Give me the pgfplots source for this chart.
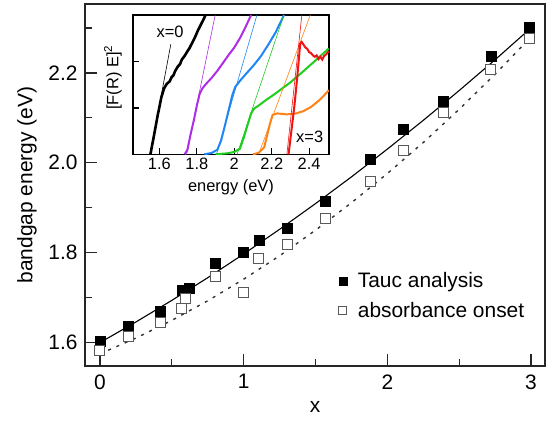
\documentclass[border=0pt]{standalone}
\usepackage{fontspec}
\setmainfont{Liberation Sans}
\usepackage{pgfplots}
\pgfplotsset{compat=1.18}
\definecolor{cpurple}{RGB}{175,45,230}
\definecolor{cblue}{RGB}{30,135,245}
\definecolor{cgreen}{RGB}{30,205,30}
\definecolor{corange}{RGB}{255,130,20}
\definecolor{cred}{RGB}{240,20,20}
\newcommand\mainfs{\fontsize{21}{25}\selectfont}
\newcommand\insfs{\fontsize{16.5}{19}\selectfont}
\begin{document}
\begin{tikzpicture}
\path[use as bounding box] (-85bp,-57bp) rectangle (465bp,366bp);
\begin{axis}[
  at={(0,0)}, anchor=south west,
  scale only axis, width=460bp, height=362bp,
  xmin=-0.104, xmax=3.097, ymin=1.548, ymax=2.353,
  xtick={0,1,2,3}, minor xtick={0.5,1.5,2.5},
  ytick={1.6,1.8,2.0,2.2}, minor ytick={1.7,1.9,2.1,2.3},
  /pgf/number format/assume math mode=true,
  yticklabel style={xshift=-4bp, /pgf/number format/fixed, /pgf/number format/fixed zerofill, /pgf/number format/precision=1},
  xticklabel style={yshift=-5bp},
  tick align=inside, xtick pos=left, ytick pos=left,
  major tick length=12bp, minor tick length=7bp,
  tick style={line width=1.4bp, black!85},
  axis line style={line width=1.4bp, black!85},
  tick label style={font=\mainfs},
  label style={font=\mainfs},
  xlabel={x}, ylabel={bandgap energy (eV)},
  xlabel style={at={(axis description cs:0.5,0)}, anchor=center, yshift=-41bp},
  ylabel style={at={(axis description cs:-0.126,0.5)}, anchor=center},
  legend style={draw=none, fill=none, font=\mainfs, at={(axis description cs:0.545,0.27)}, anchor=north west, row sep=9bp},
  legend cell align=left,
  legend image post style={mark size=4bp},
]
\addplot[black, line width=1.1bp, forget plot] coordinates {
(0,1.600) (0.25,1.6458) (0.5,1.6939) (0.75,1.7443) (1,1.797) (1.25,1.8519) (1.5,1.9091)
(1.75,1.9685) (2,2.0303) (2.25,2.0943) (2.5,2.1606) (2.75,2.2291) (3,2.300)};
\addplot[black!80, line width=1.4bp, dash pattern=on 3bp off 6bp, forget plot] coordinates {
(0,1.575) (0.25,1.610) (0.5,1.6495) (0.75,1.693) (1,1.741) (1.25,1.793) (1.5,1.850)
(1.75,1.911) (2,1.976) (2.25,2.045) (2.5,2.119) (2.75,2.197) (3,2.280)};
\addplot[only marks, mark=square*, mark size=5bp, black] coordinates {
(0,1.604) (0.197,1.636) (0.417,1.669) (0.57,1.717) (0.62,1.722) (0.80,1.776) (1.0,1.800)
(1.11,1.827) (1.30,1.854) (1.565,1.915) (1.882,2.008) (2.113,2.075) (2.39,2.136) (2.72,2.236) (2.99,2.302)};
\addlegendentry{\hspace{9bp}Tauc analysis}
\addplot[only marks, mark=square*, mark size=5bp, mark options={fill=white, draw=black!65, line width=1bp}] coordinates {
(0,1.582) (0.197,1.613) (0.42,1.644) (0.567,1.676) (0.597,1.699) (0.803,1.748) (1.0,1.711)
(1.106,1.788) (1.308,1.819) (1.567,1.875) (1.882,1.959) (2.113,2.028) (2.39,2.112) (2.72,2.2075) (2.99,2.276)};
\addlegendentry{\hspace{9bp}absorbance onset}
\end{axis}
\begin{axis}[
  at={(48bp,211.7bp)}, anchor=south west,
  scale only axis, width=196bp, height=139.3bp,
  xmin=1.459, xmax=2.506, ymin=0, ymax=3,
  axis background/.style={fill=white},
  xtick={1.6,1.8,2,2.2,2.4}, ytick={1,2}, yticklabels={},
  /pgf/number format/assume math mode=true,
  tick align=inside, xtick pos=left, ytick pos=left,
  major tick length=6bp,
  tick style={line width=1.3bp, black},
  axis line style={line width=1.5bp, black},
  tick label style={font=\insfs},
  label style={font=\insfs},
  xlabel={energy (eV)}, ylabel={[F(R) E]\textsuperscript{2}},
  xlabel style={at={(axis description cs:0.5,0)}, anchor=center, yshift=-33bp},
  ylabel style={at={(axis description cs:-0.102,0.55)}, anchor=center},
]
% black x=0
\addplot[black, line width=0.6bp] coordinates {(1.551,0) (1.661,2.37)};
\addplot[black, line width=2.6bp] coordinates {
(1.552,0) (1.57,0.38) (1.59,0.82) (1.61,1.22) (1.625,1.42) (1.64,1.52) (1.655,1.57) (1.665,1.66)
(1.675,1.70) (1.685,1.80) (1.70,1.90) (1.71,1.94) (1.72,2.04) (1.735,2.12) (1.75,2.22) (1.76,2.28)
(1.775,2.40) (1.79,2.52) (1.805,2.66) (1.82,2.78) (1.835,2.90) (1.847,3.0)};
% purple
\addplot[cpurple, line width=0.6bp] coordinates {(1.746,0) (1.898,3.0)};
\addplot[cpurple, line width=2bp] coordinates {
(1.735,0) (1.75,0.1) (1.765,0.4) (1.785,0.75) (1.80,1.05) (1.815,1.30) (1.83,1.42) (1.85,1.52)
(1.88,1.65) (1.91,1.80) (1.94,1.97) (1.97,2.14) (2.00,2.30) (2.03,2.50) (2.06,2.74) (2.09,3.0)};
% blue
\addplot[cblue, line width=0.6bp] coordinates {(1.905,0) (2.121,3.0)};
\addplot[cblue, line width=2bp] coordinates {
(1.84,0) (1.88,0.03) (1.91,0.10) (1.93,0.30) (1.95,0.62) (1.97,0.95) (1.99,1.28) (2.005,1.45)
(2.03,1.58) (2.06,1.72) (2.10,1.90) (2.14,2.10) (2.18,2.35) (2.22,2.62) (2.26,2.95) (2.265,3.0)};
% green
\addplot[cgreen, line width=0.6bp] coordinates {(2.015,0) (2.265,3.0)};
\addplot[cgreen, line width=2bp] coordinates {
(1.90,0) (1.96,0.02) (2.00,0.05) (2.03,0.12) (2.05,0.35) (2.07,0.62) (2.09,0.88) (2.105,0.98)
(2.13,1.05) (2.17,1.17) (2.21,1.28) (2.25,1.40) (2.30,1.55) (2.35,1.72) (2.40,1.90) (2.45,2.08) (2.505,2.28)};
% orange
\addplot[corange, line width=0.6bp] coordinates {(2.13,0) (2.406,3.0)};
\addplot[corange, line width=2bp] coordinates {
(2.10,0) (2.13,0.03) (2.16,0.15) (2.175,0.40) (2.19,0.65) (2.205,0.85) (2.23,0.88) (2.28,0.86)
(2.33,0.88) (2.37,0.93) (2.41,1.02) (2.45,1.15) (2.48,1.27) (2.505,1.38)};
% red
\addplot[cred, line width=0.6bp] coordinates {(2.281,0) (2.361,3.0)};
\addplot[cred, line width=2bp] coordinates {
(2.29,0) (2.305,0.5) (2.32,1.0) (2.335,1.6) (2.345,2.05) (2.352,2.38) (2.36,2.42) (2.37,2.36)
(2.38,2.30) (2.39,2.27) (2.40,2.20) (2.41,2.18) (2.42,2.13) (2.43,2.10) (2.44,2.13) (2.45,2.05)
(2.46,2.10) (2.47,2.04) (2.48,2.12) (2.49,2.15) (2.505,2.22)};
\node[font=\insfs] at (axis cs:1.657,2.64) {x=0};
\node[font=\insfs] at (axis cs:2.403,0.38) {x=3};
\end{axis}
\end{tikzpicture}
\end{document}
